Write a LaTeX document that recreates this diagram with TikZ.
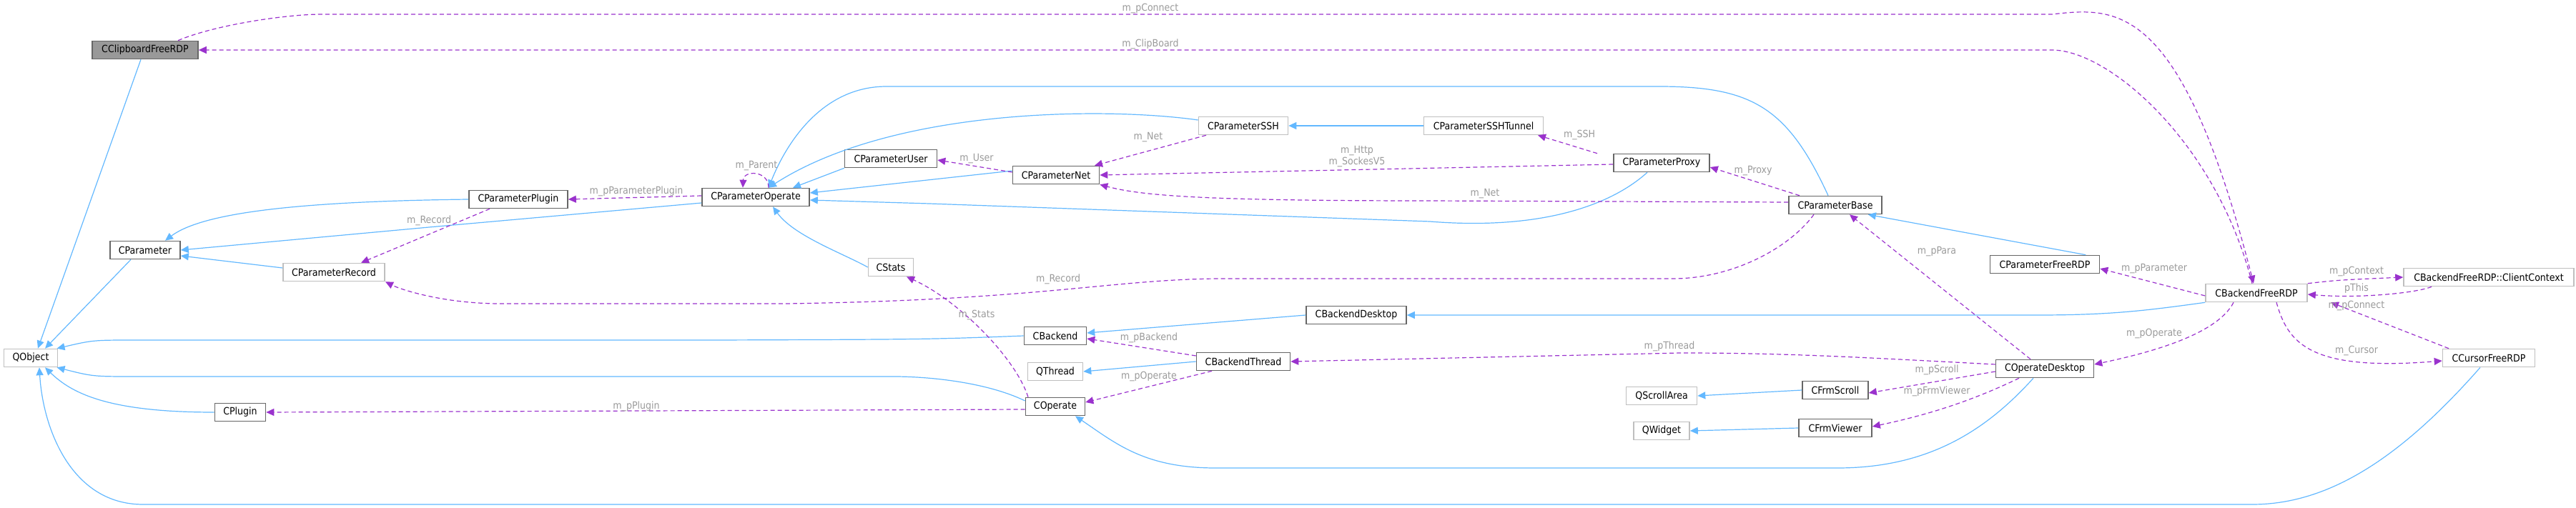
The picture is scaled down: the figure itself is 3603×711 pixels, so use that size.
\documentclass[tikz,border=0pt]{standalone}
\usepackage{fontspec}
\setmainfont{DejaVu Sans Condensed}
\usetikzlibrary{arrows.meta}
\definecolor{blueC}{HTML}{63B8FF}
\definecolor{purpC}{HTML}{9A32CD}
\definecolor{lblC}{HTML}{9A9A9A}
\definecolor{dkB}{HTML}{666666}
\definecolor{ltB}{HTML}{BFBFBF}
\begin{document}
\begin{tikzpicture}[x=0.5pt,y=-0.5pt,
  bx/.style={draw=#1,fill=white,line width=0.8pt,minimum height=12.5pt,inner sep=1pt,font=\fontsize{7pt}{8pt}\selectfont},
  dk/.style={bx=dkB},
  lt/.style={bx=ltB},
  w/.style={minimum width=#1*0.5pt},
  inh/.style={draw=blueC,line width=0.6pt,-{Triangle[length=5.5pt,width=5pt]},blueC},
  use/.style={draw=purpC,line width=0.6pt,dash pattern=on 3pt off 2pt,-{Triangle[length=5.5pt,width=5pt]},purpC},
  lbl/.style={text=lblC,font=\fontsize{7pt}{8pt}\selectfont,inner sep=0.5pt}]
\useasboundingbox (0,0) rectangle (3603,711);
% nodes
\node[bx=dkB,fill=black!40,w=148] (clip) at (203,70) {CClipboardFreeRDP};
\node[dk,w=138] (pplug) at (725,279) {CParameterPlugin};
\node[dk,w=150] (pop) at (1057,276) {CParameterOperate};
\node[dk,w=98] (par) at (203,350) {CParameter};
\node[lt,w=142] (prec) at (467,381) {CParameterRecord};
\node[lt,w=75] (qobj) at (43,501) {QObject};
\node[dk,w=71] (plug) at (336,577) {CPlugin};
\node[lt,w=125] (pssh) at (1739,176) {CParameterSSH};
\node[lt,w=167] (ptun) at (2075,176) {CParameterSSHTunnel};
\node[dk,w=129] (puser) at (1246,222) {CParameterUser};
\node[dk,w=121] (pnet) at (1477,245) {CParameterNet};
\node[dk,w=134] (pprox) at (2324,228) {CParameterProxy};
\node[lt,w=63] (stats) at (1246,374) {CStats};
\node[dk,w=140] (bdesk) at (1897,441) {CBackendDesktop};
\node[dk,w=87] (back) at (1476,470) {CBackend};
\node[dk,w=131] (bthr) at (1739,506) {CBackendThread};
\node[lt,w=77] (qthr) at (1476,520) {QThread};
\node[dk,w=83] (oper) at (1476,569) {COperate};
\node[lt,w=99] (qscr) at (2324,554) {QScrollArea};
\node[lt,w=78] (qwid) at (2324,603) {QWidget};
\node[dk,w=130] (pbase) at (2567,287) {CParameterBase};
\node[dk,w=153] (pfree) at (2860,370) {CParameterFreeRDP};
\node[lt,w=142] (bfree) at (3156,410) {CBackendFreeRDP};
\node[lt,w=238] (ctx) at (3481,388) {CBackendFreeRDP::ClientContext};
\node[lt,w=129] (curs) at (3481,501) {CCursorFreeRDP};
\node[dk,w=137] (odesk) at (2860,516) {COperateDesktop};
\node[dk,w=92] (fscr) at (2567,546) {CFrmScroll};
\node[dk,w=102] (fview) at (2567,599) {CFrmViewer};
% inheritance
\draw[inh] ([xshift=-3pt]clip.south) -- ([xshift=5pt]qobj.north);
\draw[inh] ([xshift=-10pt]par.south) -- ([xshift=10pt]qobj.north);
\draw[inh] (back.west) .. controls (1300,475) .. (1000,476) -- (190,476) .. controls (130,476) .. (qobj.20);
\draw[inh] ([yshift=4pt]oper.west) .. controls (1380,535) and (1300,527) .. (1250,527) -- (190,527) .. controls (130,527) .. (qobj.-20);
\draw[inh] (plug.west) .. controls (150,577) and (100,550) .. ([xshift=10pt]qobj.south);
\draw[inh] ([xshift=-6pt]curs.south) .. controls (3350,650) and (3250,706) .. (3150,706) -- (200,706) .. controls (100,706) and (60,600) .. ([xshift=6pt]qobj.south);
\draw[inh] (pplug.west) .. controls (400,282) and (280,300) .. ([xshift=14pt]par.north);
\draw[inh] ([yshift=-4pt]pop.west) -- (600,318) -- (par.east);
\draw[inh] ([yshift=3pt]prec.west) -- ([yshift=-4pt]par.east);
\draw[inh] (puser.south west) -- ([xshift=26pt]pop.north);
\draw[inh] ([yshift=3pt]pnet.west) -- ([yshift=3pt]pop.east);
\draw[inh] ([yshift=4pt]pssh.west) .. controls (1550,150) and (1250,150) .. ([xshift=9pt]pop.north);
\draw[inh] ([xshift=-5pt]pbase.north) .. controls (2500,150) and (2450,121) .. (2320,121) -- (1240,121) .. controls (1150,121) and (1100,200) .. ([xshift=9pt]pop.north);
\draw[inh] ([xshift=-10pt]pprox.south) .. controls (2250,290) and (2150,322) .. (2000,310) -- (1300,285) -- ([yshift=-2pt]pop.east);
\draw[inh] (stats.west) .. controls (1180,355) and (1110,330) .. ([xshift=12pt]pop.south);
\draw[inh] (ptun.west) -- (pssh.east);
\draw[inh] ([xshift=-10pt]pfree.north east) -- ([xshift=-10pt]pbase.south east);
\draw[inh] (bdesk.west) -- ([yshift=2pt]back.east);
\draw[inh] (bfree.south west) .. controls (3000,435) and (2950,441) .. (2850,441) -- (bdesk.east);
\draw[inh] (bthr.west) -- (qthr.east);
\draw[inh] ([xshift=-8pt]odesk.south) .. controls (2780,600) and (2700,655) .. (2570,655) -- (1700,655) .. controls (1600,655) and (1560,620) .. ([xshift=14pt]oper.south);
\draw[inh] (fscr.west) -- (qscr.east);
\draw[inh] (fview.west) -- (qwid.east);
% usage
\draw[use] ([xshift=23pt]clip.north) .. controls (300,35) and (400,20) .. (450,20) -- (2870,20) .. controls (2960,10) and (3050,0) .. ([xshift=-2pt]bfree.north);
\node[lbl] (l1) at (1609,12) {m\_pConnect};
\draw[use] ([xshift=-3pt]bfree.north) .. controls (3100,200) and (2950,70) .. (2870,70) -- (clip.east);
\node[lbl] (l2) at (1609,62) {m\_ClipBoard};
\draw[use] ([yshift=1pt]pop.west) -- (pplug.east);
\node[lbl] (l3) at (890,268) {m\_pParameterPlugin};
\draw[use] ([xshift=9pt]pop.north) .. controls (1075,238) and (1040,238) .. ([xshift=-9pt]pop.north);
\node[lbl] (l4) at (1058,232) {m\_Parent};
\draw[use] ([xshift=-20pt]pplug.south) -- ([xshift=19pt]prec.north);
\node[lbl] (l5) at (600,309) {m\_Record};
\draw[use] ([xshift=-15pt]pbase.south) .. controls (2500,350) and (2420,390) .. (2340,390) -- (1700,390) .. controls (1550,392) and (1450,420) .. (1100,425) -- (700,425) .. controls (620,425) and (560,405) .. ([xshift=36pt]prec.south);
\node[lbl] (l6) at (1480,391) {m\_Record};
\draw[use] ([yshift=2pt]pnet.west) -- ([yshift=-1pt]puser.east);
\node[lbl] (l7) at (1366,222) {m\_User};
\draw[use] ([xshift=-26pt]pssh.south) -- ([xshift=27pt]pnet.north);
\node[lbl] (l8) at (1606,192) {m\_Net};
\draw[use] ([yshift=-1pt]pprox.west) -- (pnet.east);
\node[lbl,align=center] (l9) at (1898,219) {m\_Http\\m\_SockesV5};
\draw[use] ([yshift=2pt]pbase.west) -- (2000,281) .. controls (1700,281) and (1600,275) .. (pnet.south east);
\node[lbl] (l10) at (2077,271) {m\_Net};
\draw[use] ([xshift=-45pt]pprox.north) -- ([xshift=38pt]ptun.south);
\node[lbl] (l11) at (2209,189) {m\_SSH};
\draw[use] ([xshift=-25pt]pbase.north) -- ([yshift=-3pt]pprox.east);
\node[lbl] (l12) at (2452,239) {m\_Proxy};
\draw[use] ([xshift=-19pt]oper.north) .. controls (1420,500) and (1340,420) .. ([xshift=11pt]stats.south);
\node[lbl] (l13) at (1366,441) {m\_Stats};
\draw[use] ([yshift=4pt]bthr.west) -- ([yshift=-2pt]back.east);
\node[lbl] (l14) at (1607,473) {m\_pBackend};
\draw[use] ([xshift=-22pt]bthr.south) -- ([yshift=3pt]oper.east);
\node[lbl] (l15) at (1607,527) {m\_pOperate};
\draw[use] ([yshift=3pt]odesk.west) .. controls (2600,500) and (2500,494) .. (2350,494) -- (bthr.east);
\node[lbl] (l16) at (2335,485) {m\_pThread};
\draw[use] ([yshift=-2pt]oper.west) -- (plug.east);
\node[lbl] (l17) at (890,569) {m\_pPlugin};
\draw[use] ([xshift=-10pt]odesk.north) -- ([xshift=10pt]pbase.south);
\node[lbl] (l18) at (2709,352) {m\_pPara};
\draw[use] ([yshift=-2pt]bfree.west) -- ([yshift=-3pt]pfree.east);
\node[lbl] (l19) at (3013,376) {m\_pParameter};
\draw[use] ([xshift=-16pt]bfree.south) .. controls (3100,470) and (3000,495) .. ([yshift=3pt]odesk.east);
\node[lbl] (l20) at (3013,467) {m\_pOperate};
\draw[use] (bfree.north east) .. controls (3270,392) .. (ctx.west);
\node[lbl] (l21) at (3296,380) {m\_pContext};
\draw[use] ([xshift=-40pt]ctx.south) .. controls (3380,410) and (3300,418) .. ([yshift=-1pt]bfree.east);
\node[lbl] (l22) at (3296,404) {pThis};
\draw[use] ([xshift=-28pt]curs.north) -- ([xshift=52pt]bfree.south);
\node[lbl] (l23) at (3296,428) {m\_pConnect};
\draw[use] ([xshift=14pt]bfree.south) .. controls (3200,480) and (3230,520) .. ([yshift=-2pt]curs.west);
\node[lbl] (l24) at (3296,491) {m\_Cursor};
\draw[use] ([yshift=-2pt]odesk.west) -- ([yshift=-2pt]fscr.east);
\node[lbl] (l25) at (2709,518) {m\_pScroll};
\draw[use] ([xshift=-18pt]odesk.south) .. controls (2760,560) and (2700,580) .. ([yshift=1pt]fview.east);
\node[lbl] (l26) at (2709,548) {m\_pFrmViewer};
\end{tikzpicture}
\end{document}
